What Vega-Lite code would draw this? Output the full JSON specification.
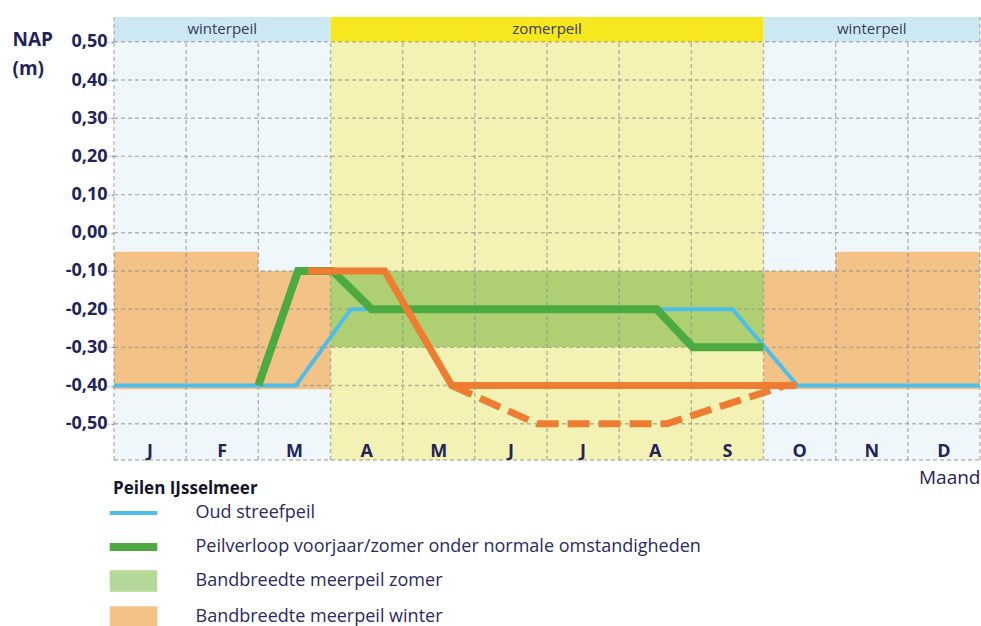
{
  "$schema": "https://vega.github.io/schema/vega-lite/v6.json",
  "width": 866,
  "height": 443,
  "autosize": "none",
  "padding": {"left": 114, "top": 17, "right": 1, "bottom": 166},
  "background": "white",
  "config": {"view": {"stroke": null}, "font": "Open Sans"},
  "datasets": {
    "seasons": [
      {"x0": 0, "x1": 3, "xm": 1.5, "season": "winter", "label": "winterpeil"},
      {"x0": 3, "x1": 9, "xm": 6, "season": "zomer", "label": "zomerpeil"},
      {"x0": 9, "x1": 12, "xm": 10.5, "season": "winter", "label": "winterpeil"}
    ],
    "bands": [
      {"series": "Bandbreedte meerpeil winter", "x0": 0, "x1": 2, "lo": -0.41, "hi": -0.05},
      {"series": "Bandbreedte meerpeil winter", "x0": 2, "x1": 3, "lo": -0.41, "hi": -0.10},
      {"series": "Bandbreedte meerpeil winter", "x0": 9, "x1": 10, "lo": -0.41, "hi": -0.10},
      {"series": "Bandbreedte meerpeil winter", "x0": 10, "x1": 12, "lo": -0.41, "hi": -0.05},
      {"series": "Bandbreedte meerpeil zomer", "x0": 3, "x1": 9, "lo": -0.30, "hi": -0.10}
    ],
    "hgrid": [{"v": -0.595}, {"v": -0.5}, {"v": -0.4}, {"v": -0.3}, {"v": -0.2}, {"v": -0.1}, {"v": 0}, {"v": 0.1}, {"v": 0.2}, {"v": 0.3}, {"v": 0.4}, {"v": 0.5}],
    "vgrid": [{"m": 0}, {"m": 1}, {"m": 2}, {"m": 3}, {"m": 4}, {"m": 5}, {"m": 6}, {"m": 7}, {"m": 8}, {"m": 9}, {"m": 10}, {"m": 11}, {"m": 12}],
    "edges": [{"m": 0}, {"m": 12}],
    "lines": [
      {"series": "Oud streefpeil", "x": 0, "y": -0.40},
      {"series": "Oud streefpeil", "x": 2.52, "y": -0.40},
      {"series": "Oud streefpeil", "x": 3.28, "y": -0.20},
      {"series": "Oud streefpeil", "x": 8.57, "y": -0.20},
      {"series": "Oud streefpeil", "x": 9.47, "y": -0.40},
      {"series": "Oud streefpeil", "x": 12, "y": -0.40},
      {"series": "Peilverloop voorjaar/zomer onder normale omstandigheden", "x": 2, "y": -0.40},
      {"series": "Peilverloop voorjaar/zomer onder normale omstandigheden", "x": 2.55, "y": -0.10},
      {"series": "Peilverloop voorjaar/zomer onder normale omstandigheden", "x": 3.03, "y": -0.10},
      {"series": "Peilverloop voorjaar/zomer onder normale omstandigheden", "x": 3.57, "y": -0.20},
      {"series": "Peilverloop voorjaar/zomer onder normale omstandigheden", "x": 7.52, "y": -0.20},
      {"series": "Peilverloop voorjaar/zomer onder normale omstandigheden", "x": 8.02, "y": -0.30},
      {"series": "Peilverloop voorjaar/zomer onder normale omstandigheden", "x": 9.0, "y": -0.30},
      {"series": "Nieuw peil", "x": 2.69, "y": -0.10},
      {"series": "Nieuw peil", "x": 3.75, "y": -0.10},
      {"series": "Nieuw peil", "x": 4.68, "y": -0.40},
      {"series": "Nieuw peil", "x": 9.46, "y": -0.40},
      {"series": "Nieuw peil droog", "x": 4.68, "y": -0.40},
      {"series": "Nieuw peil droog", "x": 5.86, "y": -0.50},
      {"series": "Nieuw peil droog", "x": 7.66, "y": -0.50},
      {"series": "Nieuw peil droog", "x": 9.3, "y": -0.40}
    ],
    "months": [
      {"m": 0.5, "label": "J"}, {"m": 1.5, "label": "F"}, {"m": 2.5, "label": "M"},
      {"m": 3.5, "label": "A"}, {"m": 4.5, "label": "M"}, {"m": 5.5, "label": "J"},
      {"m": 6.5, "label": "J"}, {"m": 7.5, "label": "A"}, {"m": 8.5, "label": "S"},
      {"m": 9.5, "label": "O"}, {"m": 10.5, "label": "N"}, {"m": 11.5, "label": "D"}
    ]
  },
  "resolve": {"scale": {"color": "shared"}},
  "layer": [
    {
      "data": {"name": "seasons"},
      "mark": {"type": "rect"},
      "encoding": {
        "x": {"field": "x0", "type": "quantitative", "scale": {"domain": [0, 12], "nice": false, "zero": false},
          "axis": {"labels": false, "ticks": false, "domain": false, "grid": false, "title": "Maand", "titleAnchor": "end", "titleFontSize": 19, "titleFontWeight": "normal", "titleColor": "#23235b", "titlePadding": 8, "titleFont": "Open Sans"}},
        "x2": {"field": "x1"},
        "y": {"datum": -0.595, "type": "quantitative", "scale": {"domain": [-0.595, 0.565], "nice": false, "zero": false},
          "axis": {
            "values": [-0.5, -0.4, -0.3, -0.2, -0.1, 0, 0.1, 0.2, 0.3, 0.4, 0.5],
            "labelExpr": "replace(replace(format(datum.value, '.2f'), '.', ','), '\u2212', '-')",
            "labelFontSize": 18, "labelFontWeight": "bold", "labelColor": "#23235b", "labelFont": "Open Sans",
            "labelPadding": 1,
            "domain": false, "grid": false,
            "tickSize": 6, "tickColor": "#9a9a9a", "tickDash": [3, 2], "tickWidth": 1.3,
            "title": ["NAP", "(m)"], "titleAngle": 0, "titleAlign": "left", "titleBaseline": "top",
            "titleX": -102, "titleY": 13, "titleFontSize": 19, "titleFontWeight": "bold", "titleColor": "#23235b",
            "titleLineHeight": 29, "titleFont": "Open Sans"
          }},
        "y2": {"datum": 0.5},
        "fill": {"value": "#eff7fb"}
      }
    },
    {
      "data": {"name": "seasons"},
      "transform": [{"filter": "datum.season == 'zomer'"}],
      "mark": {"type": "rect", "fill": "#f3f1b3"},
      "encoding": {
        "x": {"field": "x0", "type": "quantitative"},
        "x2": {"field": "x1"},
        "y": {"datum": -0.595, "type": "quantitative"},
        "y2": {"datum": 0.5}
      }
    },
    {
      "data": {"name": "seasons"},
      "mark": {"type": "rect"},
      "encoding": {
        "x": {"field": "x0", "type": "quantitative"},
        "x2": {"field": "x1"},
        "y": {"datum": 0.5, "type": "quantitative"},
        "y2": {"datum": 0.565},
        "fill": {"condition": {"test": "datum.season == 'zomer'", "value": "#f6e71e"}, "value": "#cbe8f3"}
      }
    },
    {
      "data": {"name": "seasons"},
      "mark": {"type": "text", "fontSize": 15, "color": "#3a3a55", "baseline": "middle", "font": "Open Sans"},
      "encoding": {
        "x": {"field": "xm", "type": "quantitative"},
        "y": {"datum": 0.533, "type": "quantitative"},
        "text": {"field": "label"}
      }
    },
    {
      "data": {"name": "bands"},
      "transform": [{"filter": "datum.series == 'Bandbreedte meerpeil winter'"}],
      "mark": {"type": "rect", "opacity": 1},
      "encoding": {
        "x": {"field": "x0", "type": "quantitative"},
        "x2": {"field": "x1"},
        "y": {"field": "lo", "type": "quantitative"},
        "y2": {"field": "hi"},
        "color": {"field": "series", "type": "nominal",
          "scale": {
            "domain": ["Oud streefpeil", "Peilverloop voorjaar/zomer onder normale omstandigheden", "Bandbreedte meerpeil zomer", "Bandbreedte meerpeil winter"],
            "range": ["#4fbde9", "#4caa40", "#6bb031", "#f2c286"]
          },
          "legend": {
            "orient": "none", "legendX": -1, "legendY": 464, "direction": "vertical",
            "title": "Peilen IJsselmeer", "titleFontSize": 17, "titleFontWeight": "bold", "titleColor": "#15152a", "titlePadding": 1, "titleFont": "Open Sans",
            "labelFontSize": 18, "labelColor": "#2a2a5e", "labelFont": "Open Sans", "labelLimit": 800, "labelOffset": 48,
            "symbolSize": 784, "symbolOffset": 6.5, "rowPadding": 11, "padding": 0,
            "symbolType": "square",
            "encoding": {
              "symbols": {
                "shape": {"value": {"expr": "datum.value == 'Oud streefpeil' ? 'M-1.7,-0.14H1.7V0.14H-1.7Z' : (datum.value == 'Bandbreedte meerpeil zomer' || datum.value == 'Bandbreedte meerpeil winter') ? 'M-1.7,-0.76H1.7V0.76H-1.7Z' : 'M-1.7,-0.28H1.7V0.28H-1.7Z'"}},
                "fill": {"value": {"expr": "scale('color', datum.value)"}},
                "stroke": {"value": "transparent"},
                "strokeWidth": {"value": 0},
                "opacity": {"value": {"expr": "datum.value == 'Bandbreedte meerpeil zomer' ? 0.5 : 1"}}
              }
            }
          }
        }
      }
    },
    {
      "data": {"name": "bands"},
      "transform": [{"filter": "datum.series == 'Bandbreedte meerpeil zomer'"}],
      "mark": {"type": "rect", "opacity": 0.5},
      "encoding": {
        "x": {"field": "x0", "type": "quantitative"},
        "x2": {"field": "x1"},
        "y": {"field": "lo", "type": "quantitative"},
        "y2": {"field": "hi"},
        "color": {"field": "series", "type": "nominal"}
      }
    },
    {
      "data": {"name": "hgrid"},
      "mark": {"type": "rule", "color": "#8a8a8a", "opacity": 0.6, "strokeDash": [4, 3], "strokeWidth": 1.4},
      "encoding": {
        "y": {"field": "v", "type": "quantitative"},
        "x": {"datum": 0, "type": "quantitative"},
        "x2": {"datum": 12}
      }
    },
    {
      "data": {"name": "vgrid"},
      "mark": {"type": "rule", "color": "#8a8a8a", "opacity": 0.6, "strokeDash": [4, 3], "strokeWidth": 1.4},
      "encoding": {
        "x": {"field": "m", "type": "quantitative"},
        "y": {"datum": -0.595, "type": "quantitative"},
        "y2": {"datum": 0.5}
      }
    },
    {
      "data": {"name": "edges"},
      "mark": {"type": "rule", "color": "#8a8a8a", "opacity": 0.6, "strokeDash": [4, 3], "strokeWidth": 1.4},
      "encoding": {
        "x": {"field": "m", "type": "quantitative"},
        "y": {"datum": 0.5, "type": "quantitative"},
        "y2": {"datum": 0.565}
      }
    },
    {
      "data": {"name": "lines"},
      "transform": [{"filter": "datum.series == 'Oud streefpeil'"}],
      "mark": {"type": "line", "strokeWidth": 4, "strokeJoin": "miter"},
      "encoding": {
        "x": {"field": "x", "type": "quantitative"},
        "y": {"field": "y", "type": "quantitative"},
        "color": {"field": "series", "type": "nominal"}
      }
    },
    {
      "data": {"name": "lines"},
      "transform": [{"filter": "datum.series == 'Peilverloop voorjaar/zomer onder normale omstandigheden'"}],
      "mark": {"type": "line", "strokeWidth": 8, "strokeJoin": "miter"},
      "encoding": {
        "x": {"field": "x", "type": "quantitative"},
        "y": {"field": "y", "type": "quantitative"},
        "color": {"field": "series", "type": "nominal"}
      }
    },
    {
      "data": {"name": "lines"},
      "transform": [{"filter": "datum.series == 'Nieuw peil droog'"}],
      "mark": {"type": "line", "strokeWidth": 7, "color": "#ee7d31", "strokeDash": [22, 9]},
      "encoding": {
        "x": {"field": "x", "type": "quantitative"},
        "y": {"field": "y", "type": "quantitative"}
      }
    },
    {
      "data": {"name": "lines"},
      "transform": [{"filter": "datum.series == 'Nieuw peil'"}],
      "mark": {"type": "line", "strokeWidth": 7, "color": "#ee7d31", "strokeJoin": "miter"},
      "encoding": {
        "x": {"field": "x", "type": "quantitative"},
        "y": {"field": "y", "type": "quantitative"}
      }
    },
    {
      "data": {"name": "months"},
      "mark": {"type": "text", "fontSize": 18, "fontWeight": "bold", "color": "#23235b", "baseline": "middle", "font": "Open Sans"},
      "encoding": {
        "x": {"field": "m", "type": "quantitative"},
        "y": {"datum": -0.575, "type": "quantitative"},
        "text": {"field": "label"}
      }
    }
  ]
}
